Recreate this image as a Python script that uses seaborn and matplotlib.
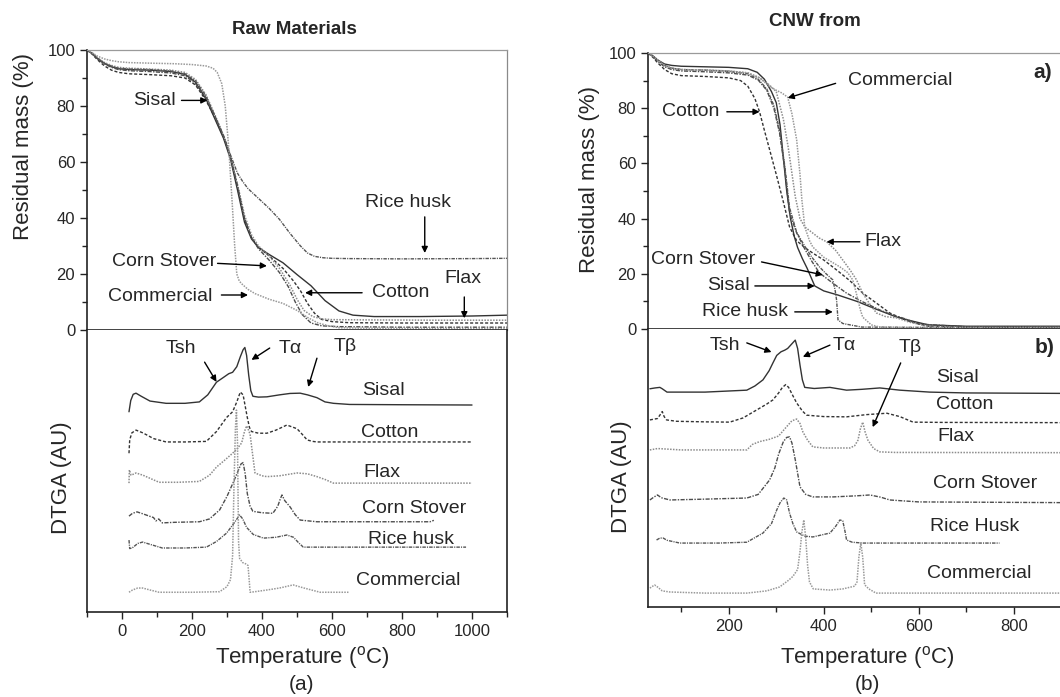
import numpy as np
import pandas as pd
import matplotlib
matplotlib.use("Agg")
import matplotlib.pyplot as plt
import seaborn as sns

# ---------------- raw materials: TGA (temperature, residual mass %) ----------------
raw_tga_sisal_t = [-100, -85, -70, -50, -30, -10, 20, 80, 140, 180, 210, 240, 265, 290, 310, 330, 350, 370, 390, 420, 460, 500, 540, 580, 620, 660, 720, 850, 1000, 1100]
raw_tga_sisal_m = [100, 98.8, 97, 95.2, 94, 93.3, 93, 92.8, 92.3, 91.3, 88.5, 82.5, 75.5, 68.5, 61, 50, 38.5, 32.5, 29.5, 27, 24, 19.8, 15.8, 10.5, 6.8, 5.3, 4.8, 4.8, 5, 5.3]
raw_tga_cotton_t = [-100, -85, -70, -50, -30, -10, 20, 80, 140, 180, 210, 240, 265, 290, 310, 330, 350, 370, 390, 420, 460, 490, 510, 530, 550, 570, 600, 650, 800, 1100]
raw_tga_cotton_m = [100, 98.5, 96.5, 94.3, 92.8, 92, 91.5, 91.2, 90.8, 90, 87.5, 82, 76, 69, 62, 51, 39.5, 33, 29.5, 26.5, 22, 17.5, 14, 9.5, 6, 3.8, 3, 2.6, 2.5, 2.5]
raw_tga_flax_t = [-100, -85, -70, -50, -30, -10, 20, 80, 140, 180, 210, 240, 265, 290, 310, 330, 350, 370, 390, 420, 450, 480, 500, 520, 545, 570, 600, 700, 900, 1100]
raw_tga_flax_m = [100, 98.8, 97.2, 95.5, 94.5, 93.8, 93.5, 93.2, 92.8, 92, 89.5, 84, 77, 69.5, 62, 52, 41, 34, 30, 26.5, 22, 16, 11, 7, 4.8, 4, 3.7, 3.6, 3.5, 3.5]
raw_tga_corn_t = [-100, -85, -70, -50, -30, -10, 20, 80, 140, 180, 210, 240, 265, 290, 310, 330, 350, 370, 390, 420, 450, 475, 495, 515, 540, 570, 620, 800, 1100]
raw_tga_corn_m = [100, 98.6, 96.8, 95, 93.8, 93, 92.6, 92.3, 91.8, 90.8, 88, 83, 76.5, 69, 62, 51.5, 40, 33, 29, 25, 20.5, 15.5, 10, 5.5, 2.5, 1.5, 1.2, 1, 1]
raw_tga_rice_t = [-100, -85, -70, -50, -30, -10, 20, 80, 140, 180, 210, 240, 265, 290, 310, 330, 345, 360, 390, 420, 450, 480, 510, 530, 550, 575, 600, 650, 800, 1000, 1100]
raw_tga_rice_m = [100, 98.7, 97, 95.3, 94.2, 93.5, 93.2, 93, 92.5, 91.5, 89, 83.5, 76.5, 69.5, 62.5, 56, 53, 50.5, 47, 43.5, 39.5, 34.5, 30, 27.5, 26.3, 25.8, 25.6, 25.5, 25.4, 25.5, 25.6]
raw_tga_comm_t = [-100, -85, -70, -50, -30, -10, 20, 80, 150, 200, 240, 260, 272, 285, 295, 305, 315, 322, 328, 335, 342, 360, 380, 420, 460, 500, 530, 560, 590, 620, 700, 900, 1100]
raw_tga_comm_m = [100, 99, 97.8, 96.8, 96.2, 95.8, 95.5, 95.3, 95.1, 94.8, 94.3, 93.5, 92, 88, 80, 65, 45, 30, 20, 17.5, 16.5, 14.5, 13, 11, 9.5, 7, 4.5, 2.5, 1.5, 0.8, 0.6, 0.5, 0.5]

# ---------------- raw materials: DTGA (temperature, arbitrary units) ----------------
raw_dtga_sisal_t = [20, 25, 32, 40, 55, 80, 126, 180, 221, 245, 270, 290, 305, 316, 328, 338, 346, 351, 356, 362, 368, 374, 390, 414, 450, 480, 509, 530, 557, 580, 604, 650, 800, 1000]
raw_dtga_sisal_v = [71, 75, 77.2, 77.6, 76.5, 74.8, 74, 74, 74.5, 77, 81.5, 83.2, 84.5, 85, 87, 90.5, 93, 93.8, 91, 84, 78.5, 76.5, 76.2, 76.3, 77, 77.5, 77.6, 77, 76, 74.5, 74, 73.6, 73.5, 73.4]
raw_dtga_cotton_t = [20, 22, 28, 40, 60, 90, 126, 180, 241, 270, 299, 316, 328, 338, 346, 352, 358, 364, 370, 390, 414, 440, 471, 500, 515, 529, 545, 557, 600, 800, 1000]
raw_dtga_cotton_v = [56.3, 61, 63.5, 64.5, 63.5, 61.5, 60.3, 60.3, 60.5, 64, 69, 71, 74.5, 78, 77, 73, 69, 65.5, 64, 63.4, 63.4, 64.5, 66.3, 65, 63, 61, 60.5, 60.3, 60.3, 60.3, 60.3]
raw_dtga_flax_t = [20, 21, 26, 40, 60, 106, 160, 221, 250, 270, 295, 316, 330, 342, 350, 356, 360, 366, 372, 380, 400, 414, 450, 500, 530, 557, 580, 604, 700, 1000]
raw_dtga_flax_v = [45.7, 50.4, 48.5, 49.3, 48.5, 46, 46, 46.3, 48.5, 51.4, 54, 56.3, 58, 60, 64, 66, 65, 63, 57, 49.3, 48.3, 48, 48.3, 49.3, 49, 48, 47, 45.7, 45.7, 45.7]
raw_dtga_corn_t = [20, 30, 43, 60, 78, 90, 97, 105, 115, 150, 221, 250, 279, 300, 318, 330, 340, 346, 352, 358, 366, 374, 400, 431, 445, 452, 457, 465, 480, 495, 509, 557, 700, 880, 891]
raw_dtga_corn_v = [34, 35, 35.5, 34.8, 34, 33.5, 32.3, 33, 31.6, 31.8, 32, 33, 36.2, 41, 46, 49.5, 52.5, 53, 49, 42, 37.5, 35.7, 35.2, 35, 37.5, 40, 41.5, 39.5, 37.3, 34.5, 32.6, 32, 32, 32, 32.5]
raw_dtga_rice_t = [20, 22, 29, 45, 59, 80, 115, 180, 241, 270, 299, 320, 336, 345, 356, 375, 404, 440, 471, 490, 505, 518, 550, 700, 983]
raw_dtga_rice_v = [25.5, 22.5, 22.7, 24.3, 24.8, 24, 22.7, 22.7, 23, 25, 28, 31.5, 34.4, 33, 30, 27.5, 26.2, 26.5, 27.3, 26.5, 24.5, 23, 23, 23, 23]
raw_dtga_comm_t = [20, 30, 45, 59, 80, 106, 200, 279, 300, 310, 316, 320, 324, 327, 330, 333, 336, 345, 355, 360, 363, 366, 380, 414, 450, 489, 520, 566, 647]
raw_dtga_comm_v = [7, 7.8, 8.5, 8.5, 7.8, 7, 7, 7.2, 9, 11.5, 20, 45, 65, 71.6, 60, 25, 19, 17.5, 17, 16.5, 12, 7, 7.2, 7.8, 8.5, 9.6, 8.5, 7, 7]

# ---------------- CNW: TGA ----------------
cnw_tga_sisal_t = [30, 40, 50, 65, 80, 100, 150, 200, 240, 260, 275, 290, 300, 308, 315, 322, 330, 338, 345, 355, 365, 381, 400, 430, 470, 510, 554, 588, 620, 700, 950]
cnw_tga_sisal_m = [100, 99, 97.5, 96, 95.5, 95.2, 95, 94.8, 94.3, 93, 90.5, 86, 82, 74, 62, 50, 40, 33.5, 29.5, 25.5, 22, 15.6, 13.8, 12.3, 10, 7.2, 4.3, 2.8, 1.5, 1, 1]
cnw_tga_cotton_t = [30, 40, 50, 65, 80, 100, 150, 200, 225, 240, 255, 265, 275, 286, 300, 314, 328, 343, 360, 377, 400, 427, 455, 482, 510, 539, 575, 620, 700, 950]
cnw_tga_cotton_m = [100, 98.5, 96.5, 94, 92.5, 91.8, 91.5, 91, 90, 88, 83.5, 78.6, 72, 65, 56, 46.7, 37, 32, 29.5, 27.5, 25, 21.4, 17.5, 13, 9.5, 5.8, 3, 1, 0.6, 0.6]
cnw_tga_flax_t = [30, 40, 50, 65, 80, 100, 150, 200, 240, 265, 285, 300, 315, 325, 340, 350, 360, 375, 390, 406, 425, 440, 455, 469, 482, 497, 511, 530, 554, 580, 620, 700, 950]
cnw_tga_flax_m = [100, 99, 97.3, 95.5, 94.5, 94, 93.8, 93.5, 92.8, 91, 88.5, 86, 76, 66, 48, 40, 37, 35, 33, 31.6, 28.5, 25, 21.5, 17.8, 13, 9, 5.8, 4.5, 4, 2.5, 1, 0.6, 0.6]
cnw_tga_corn_t = [30, 40, 50, 65, 80, 100, 150, 200, 240, 262, 280, 295, 307, 318, 328, 343, 360, 375, 391, 420, 448, 480, 518, 545, 566, 600, 700, 950]
cnw_tga_corn_m = [100, 98.8, 97, 95, 94, 93.5, 93.2, 92.8, 92, 90.2, 86.5, 80, 71, 58, 42, 34.8, 29, 24.5, 20.3, 16.5, 13, 10, 6.9, 5, 4, 1.8, 0.8, 0.8]
cnw_tga_rice_t = [30, 40, 50, 65, 80, 100, 150, 200, 240, 262, 280, 295, 307, 318, 328, 343, 360, 375, 391, 405, 419, 424, 427, 430, 440, 455, 480, 700, 950]
cnw_tga_rice_m = [100, 99, 97.5, 95.5, 94.5, 94, 93.8, 93.3, 92.5, 90.5, 87, 81, 72, 59, 44, 35, 30, 26, 22.5, 20, 17.8, 14, 10.5, 3.3, 2, 1.5, 0.7, 0.5, 0.5]
cnw_tga_comm_t = [30, 40, 50, 65, 80, 100, 150, 200, 240, 265, 285, 300, 312, 324, 333, 343, 350, 354, 360, 370, 377, 400, 434, 450, 461, 467, 472, 477, 482, 500, 518, 560, 950]
cnw_tga_comm_m = [100, 99, 97.5, 95.5, 94.5, 94, 93.8, 93.5, 92.8, 91, 88, 86.5, 85.5, 84, 78, 68.5, 56, 46.7, 37, 32, 29.7, 26, 22.5, 20.5, 17.8, 14, 10.5, 7, 4.3, 1.5, 0.7, 0.5, 0.5]

# ---------------- CNW: DTGA ----------------
cnw_dtga_sisal_t = [34, 45, 55, 60, 70, 97, 150, 238, 255, 272, 285, 293, 301, 310, 318, 324, 332, 340, 345, 350, 355, 360, 380, 413, 448, 480, 518, 560, 623, 700, 950]
cnw_dtga_sisal_v = [78.5, 78.8, 79, 78.5, 77.3, 77.3, 77.3, 78, 79.5, 81.7, 85, 87.8, 90.5, 91.8, 92.4, 93, 94.5, 96, 93, 87, 81.7, 79, 78.6, 79, 78, 78.3, 78.8, 78, 77.3, 77, 76.8]
cnw_dtga_cotton_t = [34, 50, 55, 60, 64, 69, 90, 150, 202, 230, 259, 280, 293, 305, 313, 320, 326, 335, 343, 355, 364, 400, 448, 490, 533, 560, 588, 650, 950]
cnw_dtga_cotton_v = [67.3, 67.8, 69, 70.3, 68.5, 67.3, 66.8, 66.6, 66.5, 68, 70.9, 73, 74.5, 77, 79, 80, 79, 76, 73.4, 70.5, 69, 68.5, 68.4, 69.2, 69.7, 68.5, 66.5, 66.4, 66.3]
cnw_dtga_flax_t = [34, 50, 100, 150, 238, 250, 265, 285, 305, 320, 333, 343, 350, 356, 366, 377, 400, 455, 465, 472, 477, 482, 487, 493, 505, 518, 550, 950]
cnw_dtga_flax_v = [56.5, 57, 56.5, 56.5, 56.5, 58.5, 59.5, 60.3, 61.5, 64.5, 67, 67.6, 66, 63, 60, 57.6, 57.2, 57.2, 58, 60, 64, 66.5, 63, 60, 57, 55.8, 55.6, 55.5]
cnw_dtga_corn_t = [34, 42, 50, 58, 76, 150, 238, 262, 286, 297, 305, 315, 322, 328, 333, 340, 350, 362, 377, 420, 470, 497, 520, 539, 600, 950]
cnw_dtga_corn_v = [38.5, 39.5, 40.3, 39.3, 38.5, 38.8, 39.2, 40.5, 45.7, 50, 55, 59.5, 61, 61.2, 59, 53, 43.2, 40.5, 39.6, 39.6, 40, 40.3, 39.5, 38.5, 37.8, 37.5]
cnw_dtga_rice_t = [48, 55, 62, 70, 97, 180, 238, 272, 290, 301, 308, 316, 322, 328, 335, 343, 360, 377, 413, 425, 434, 440, 445, 448, 460, 482, 770]
cnw_dtga_rice_v = [24.1, 24.8, 24.8, 24, 23, 23, 23.3, 26.6, 30, 34.9, 37.5, 39.2, 38.5, 33.8, 30, 27, 25.5, 25.2, 26.6, 29, 31.3, 31, 27, 24.1, 23.3, 23, 23]
cnw_dtga_comm_t = [34, 40, 44, 50, 60, 76, 150, 238, 280, 307, 325, 335, 345, 350, 354, 358, 362, 366, 370, 378, 413, 440, 465, 470, 474, 478, 482, 486, 495, 510, 600, 950]
cnw_dtga_comm_v = [6.8, 7.5, 7.9, 7.2, 5.8, 5.4, 5, 5, 5.8, 7.2, 9.5, 11, 13.5, 20, 27, 31.3, 25, 15, 9, 6.5, 6.1, 6.5, 7.5, 9, 18, 23, 18, 8, 6.5, 5, 5, 5]

# line styles (library styling only)
styles = {
    "sisal": dict(color="#333333", linestyle="-", linewidth=1.0),
    "cotton": dict(color="#333333", linestyle=(0, (2.2, 1.4)), linewidth=1.0),
    "flax": dict(color="#8c8c8c", linestyle=(0, (1, 0.9)), linewidth=1.1),
    "corn": dict(color="#4d4d4d", linestyle=(0, (3, 1, 1, 1)), linewidth=1.0),
    "rice": dict(color="#555555", linestyle=(0, (2.5, 0.8, 0.8, 0.8)), linewidth=1.0),
    "comm": dict(color="#999999", linestyle=(0, (1, 0.8)), linewidth=1.1),
}

sns.set_style("ticks")
plt.rcParams["font.family"] = ["Liberation Sans", "DejaVu Sans"]
plt.rcParams["mathtext.fontset"] = "custom"
plt.rcParams["mathtext.rm"] = "Liberation Sans"

fig = plt.figure(figsize=(10.6, 6.97), dpi=100)
W, H = 1060, 697


def px_axes(x0, y0, x1, y1):
    return fig.add_axes([x0 / W, 1 - y1 / H, (x1 - x0) / W, (y1 - y0) / H])


ax_lt = px_axes(87, 50, 507, 330)
ax_lb = px_axes(87, 330, 507, 612)
ax_rt = px_axes(648, 53, 1085, 329)
ax_rb = px_axes(648, 329, 1085, 607)

g = globals()
names = ["sisal", "cotton", "flax", "corn", "rice", "comm"]
for name in names:
    sns.lineplot(x=g[f"raw_tga_{name}_t"], y=g[f"raw_tga_{name}_m"], ax=ax_lt,
                 sort=False, estimator=None, **styles[name])
    sns.lineplot(x=g[f"raw_dtga_{name}_t"], y=g[f"raw_dtga_{name}_v"], ax=ax_lb,
                 sort=False, estimator=None, **styles[name])
    sns.lineplot(x=g[f"cnw_tga_{name}_t"], y=g[f"cnw_tga_{name}_m"], ax=ax_rt,
                 sort=False, estimator=None, **styles[name])
    sns.lineplot(x=g[f"cnw_dtga_{name}_t"], y=g[f"cnw_dtga_{name}_v"], ax=ax_rb,
                 sort=False, estimator=None, **styles[name])

for ax, xl in [(ax_lt, (-100, 1100)), (ax_lb, (-100, 1100)), (ax_rt, (30, 950)), (ax_rb, (30, 950))]:
    ax.set_xlim(*xl)
    ax.set_ylim(0, 100)
    ax.set_xlabel("")
    ax.set_ylabel("")
    for s in ax.spines.values():
        s.set_visible(True)
        s.set_linewidth(1.2)
        s.set_color("#222222")
    ax.tick_params(which="major", direction="out", length=5, width=1.0, labelsize=12, color="#222222")
    ax.tick_params(which="minor", direction="out", length=3.5, width=1.0, color="#222222")

for ax in (ax_lt, ax_rt):
    ax.spines["top"].set_color("#9a9a9a")
    ax.spines["top"].set_linewidth(0.9)
    ax.spines["right"].set_color("#8a8a8a")
    ax.spines["right"].set_linewidth(0.9)
    ax.set_yticks(np.arange(0, 101, 20))
    ax.set_yticks(np.arange(10, 100, 20), minor=True)
    ax.tick_params(axis="x", which="both", bottom=False, labelbottom=False)
    ax.set_ylabel("Residual mass (%)", fontsize=16)

for ax in (ax_lb, ax_rb):
    ax.set_yticks([])
    ax.spines["top"].set_visible(False)
    ax.set_ylabel("DTGA (AU)", fontsize=16)
    ax.set_xlabel("Temperature ($^{\\rm o}$C)", fontsize=16)

ax_lb.set_xticks(np.arange(0, 1001, 200))
ax_lb.set_xticks(np.arange(-100, 1101, 100), minor=True)
ax_rb.set_xticks(np.arange(200, 801, 200))
ax_rb.set_xticks(np.arange(100, 901, 100), minor=True)

# label placement
ax_lt.yaxis.set_label_coords(-0.152, 0.654)
ax_lb.yaxis.set_label_coords(-0.06, 0.475)
ax_lb.xaxis.set_label_coords(0.512, -0.16)
ax_rt.yaxis.set_label_coords(-0.133, 0.54)
ax_rb.yaxis.set_label_coords(-0.06, 0.468)
ax_rb.xaxis.set_label_coords(0.501, -0.18)
for ax in (ax_lt, ax_lb, ax_rt, ax_rb):
    ax.yaxis.label.set_va("center")
    ax.xaxis.label.set_va("center")

arrow = dict(arrowstyle="-|>", color="black", lw=1.0, mutation_scale=9, shrinkA=0, shrinkB=0)
fs = 14


def note(ax, text, pos, ha="center", tail=None, head=None, **kw):
    ax.text(pos[0], pos[1], text, ha=ha, va="center", fontsize=kw.pop("fontsize", fs), **kw)
    if tail is not None:
        ax.annotate("", xy=head, xytext=tail, arrowprops=arrow)


# raw TGA
note(ax_lt, "Sisal", (155, 82), ha="right", tail=(170, 82), head=(244, 82))
note(ax_lt, "Rice husk", (816, 45.4), tail=(865, 40.4), head=(865, 27.5))
note(ax_lt, "Corn Stover", (268, 24.6), ha="right", tail=(273, 23.8), head=(414, 22.9))
note(ax_lt, "Commercial", (259, 12.1), ha="right", tail=(284, 12.5), head=(360, 12.5))
note(ax_lt, "Cotton", (715, 13.3), ha="left", tail=(686, 13.3), head=(523, 13.3))
note(ax_lt, "Flax", (974, 18.5), tail=(978, 11.8), head=(978, 4.2))

# raw DTGA
note(ax_lb, "Tsh", (169, 93.6), tail=(236, 88.6), head=(270, 81.6))
note(ax_lb, "Tα", (480, 93.6), tail=(422, 93.6), head=(370, 89.4))
note(ax_lb, "Tβ", (638, 94), tail=(557, 90), head=(532, 79.8))
note(ax_lb, "Sisal", (746, 78.7))
note(ax_lb, "Cotton", (764, 63.8))
note(ax_lb, "Flax", (743, 49.6))
note(ax_lb, "Corn Stover", (834, 36.8))
note(ax_lb, "Rice husk", (825, 25.8))
note(ax_lb, "Commercial", (817, 11.3))

# CNW TGA
note(ax_rt, "Commercial", (451, 90.2), ha="left", tail=(425, 89), head=(324, 83.7))
note(ax_rt, "Cotton", (181, 78.7), ha="right", tail=(196, 78.7), head=(265, 78.7))
note(ax_rt, "Flax", (486, 31.6), ha="left", tail=(476, 31.6), head=(406, 31.6))
note(ax_rt, "Corn Stover", (255, 25), ha="right", tail=(269, 24.3), head=(398, 19.6))
note(ax_rt, "Sisal", (244, 15.6), ha="right", tail=(255, 15.6), head=(381, 15.6))
note(ax_rt, "Rice husk", (324, 6.2), ha="right", tail=(339, 6.2), head=(419, 6.2))
note(ax_rt, "a)", (861, 93), fontweight="bold", fontsize=15)

# CNW DTGA
note(ax_rb, "Tsh", (192, 94.2), tail=(238, 95), head=(290, 91.7))
note(ax_rb, "Tα", (444, 94.2), tail=(413, 94.2), head=(356, 90))
note(ax_rb, "Tβ", (581, 93.5), tail=(562, 87.8), head=(503, 64.7))
note(ax_rb, "b)", (865, 93.5), fontweight="bold", fontsize=15)
note(ax_rb, "Sisal", (682, 82.7))
note(ax_rb, "Cotton", (697, 72.7))
note(ax_rb, "Flax", (678, 61.2))
note(ax_rb, "Corn Stover", (739, 44.6))
note(ax_rb, "Rice Husk", (718, 28.8))
note(ax_rb, "Commercial", (728, 11.9))

fig.text(294 / W, 1 - 30 / H, "Raw Materials", ha="center", va="center", fontsize=13.5, fontweight="bold")
fig.text(815 / W, 1 - 21 / H, "CNW from", ha="center", va="center", fontsize=13.5, fontweight="bold")
fig.text(302 / W, 1 - 685 / H, "(a)", ha="center", va="center", fontsize=15)
fig.text(867 / W, 1 - 685 / H, "(b)", ha="center", va="center", fontsize=15)

fig.savefig("out.png", dpi=100)
